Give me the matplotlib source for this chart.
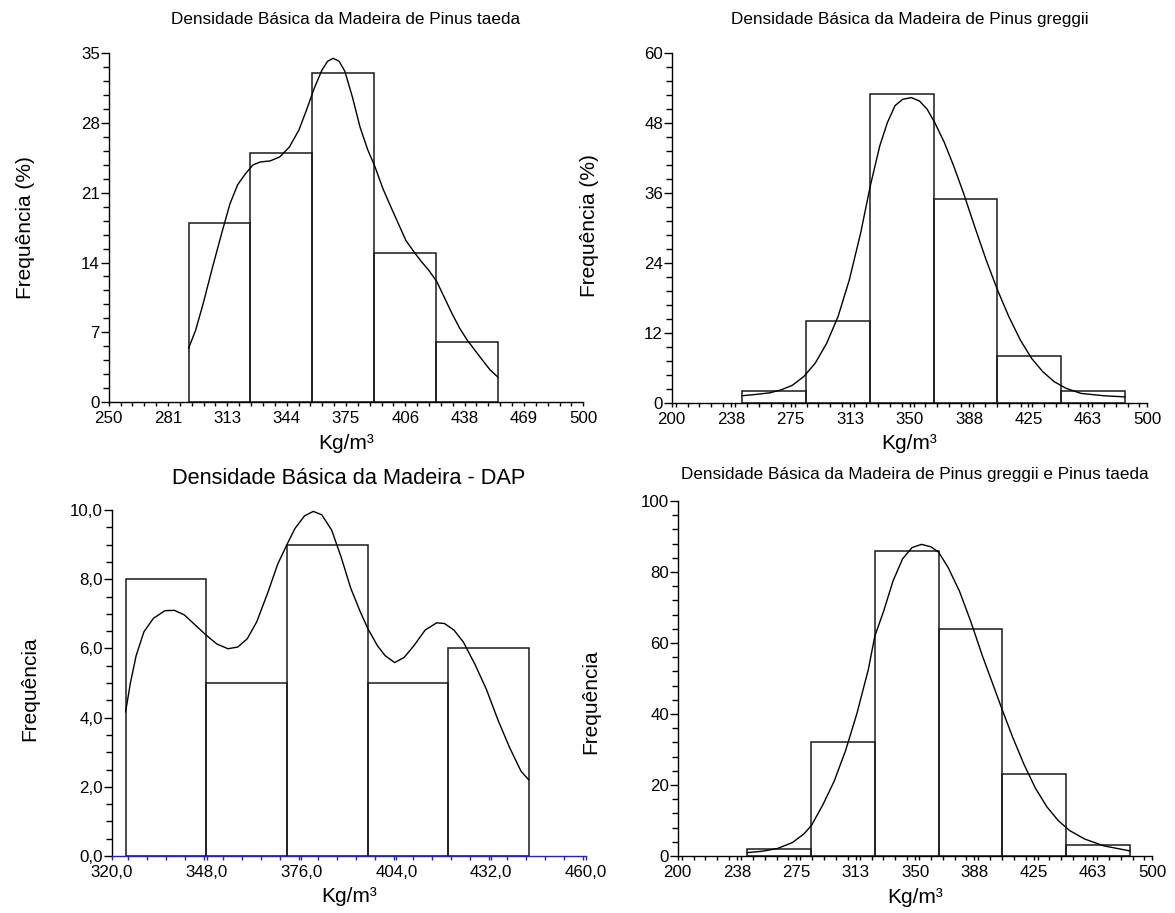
import numpy as np
import matplotlib
matplotlib.use("Agg")
import matplotlib.pyplot as plt
from matplotlib import font_manager
from matplotlib.ticker import FixedLocator, FixedFormatter, MultipleLocator

plt.rcParams['font.family'] = ['Liberation Sans', 'DejaVu Sans']

# --- Pinus taeda (frequencia %) ---
taeda_edges = [292.1, 324.6, 357.3, 389.9, 422.4, 455.0]
taeda_freq = [18, 25, 33, 15, 6]
taeda_curve_x = [292.1, 295.8, 299.8, 304.8, 309.9, 313.9, 317.9, 322.0, 326.0, 330.0,
                 335.1, 340.1, 345.2, 350.2, 354.2, 358.3, 362.3, 365.3, 368.3, 371.4,
                 374.4, 378.4, 382.4, 386.5, 389.9, 394.5, 398.6, 402.6, 406.6, 410.7,
                 414.7, 418.7, 422.8, 426.8, 430.8, 434.9, 438.9, 442.9, 446.9, 451.0, 455.0]
taeda_curve_y = [5.4, 7.2, 9.9, 13.6, 17.2, 19.9, 21.8, 22.9, 23.8, 24.1,
                 24.2, 24.6, 25.6, 27.3, 29.3, 31.5, 33.3, 34.2, 34.5, 34.2,
                 33.2, 30.6, 27.6, 25.3, 23.8, 21.4, 19.6, 17.9, 16.2, 15.1,
                 14.1, 13.2, 12.1, 10.5, 8.9, 7.4, 6.2, 5.2, 4.2, 3.2, 2.5]
taeda_xticks = ["250", "281", "313", "344", "375", "406", "438", "469", "500"]
taeda_yticks = ["0", "7", "14", "21", "28", "35"]

# --- Pinus greggii (frequencia %) ---
greggii_edges = [244.3, 284.6, 324.8, 365.1, 405.4, 445.6, 485.9]
greggii_freq = [2, 14, 53, 35, 8, 2]
greggii_curve_x = [244.3, 252.2, 261.8, 268.9, 276.1, 283.3, 290.5, 297.7, 304.9, 312.0,
                   319.2, 325.2, 331.2, 336.0, 340.8, 345.6, 351.1, 356.3, 361.1, 365.9,
                   371.9, 377.9, 383.9, 391.0, 398.2, 405.4, 412.6, 419.8, 427.0, 434.1,
                   441.3, 448.5, 458.1, 472.4, 485.8]
greggii_curve_y = [1.2, 1.4, 1.7, 2.2, 3.0, 4.5, 6.8, 10.2, 14.8, 21.1,
                   29.2, 37.2, 44.1, 48.1, 51.0, 52.1, 52.4, 51.8, 50.4, 48.1,
                   44.7, 40.6, 36.1, 30.3, 24.6, 19.4, 14.8, 10.8, 7.6, 5.3,
                   3.6, 2.5, 1.6, 1.2, 1.0]
greggii_xticks = ["200", "238", "275", "313", "350", "388", "425", "463", "500"]
greggii_yticks = ["0", "12", "24", "36", "48", "60"]

# --- DAP (frequencia absoluta) ---
dap_edges = [324.1, 347.9, 371.7, 395.5, 419.3, 443.1]
dap_freq = [8, 5, 9, 5, 6]
dap_curve_x = [324.1, 325.5, 327.2, 329.5, 332.3, 335.7, 338.5, 341.4, 344.7, 347.9,
               351.0, 354.3, 357.2, 360.0, 362.8, 366.2, 369.0, 371.6, 374.1, 376.9,
               379.5, 382.0, 384.9, 387.7, 390.5, 393.3, 395.6, 398.4, 400.7, 403.5,
               406.3, 409.2, 412.5, 415.9, 418.2, 421.0, 423.8, 427.2, 430.6, 434.0,
               437.4, 440.8, 443.0]
dap_curve_y = [4.17, 5.0, 5.79, 6.48, 6.87, 7.09, 7.1, 6.97, 6.67, 6.38,
               6.13, 5.99, 6.04, 6.28, 6.77, 7.65, 8.44, 8.98, 9.47, 9.83,
               9.96, 9.86, 9.42, 8.64, 7.75, 7.07, 6.57, 6.08, 5.79, 5.59,
               5.74, 6.08, 6.53, 6.74, 6.72, 6.53, 6.18, 5.54, 4.81, 3.93,
               3.14, 2.45, 2.21]
dap_xticks = ["320,0", "348,0", "376,0", "404,0", "432,0", "460,0"]
dap_yticks = ["0,0", "2,0", "4,0", "6,0", "8,0", "10,0"]

# --- Pinus greggii e Pinus taeda (frequencia absoluta) ---
both_edges = [243.9, 284.2, 324.6, 364.9, 405.2, 445.5, 485.8]
both_freq = [2, 32, 86, 64, 23, 3]
both_curve_x = [243.9, 253.3, 262.9, 272.5, 279.7, 284.5, 291.7, 298.9, 306.1, 313.3,
                320.5, 324.6, 330.1, 336.1, 342.1, 348.1, 354.1, 360.1, 364.9, 370.9,
                378.1, 385.3, 392.5, 399.7, 405.2, 411.7, 418.9, 426.1, 433.3, 440.5,
                447.7, 457.3, 469.3, 485.8]
both_curve_y = [0.96, 1.34, 2.1, 3.8, 6.2, 8.6, 14.4, 21.1, 29.7, 40.2,
                52.6, 62.0, 68.9, 77.5, 83.7, 86.9, 87.8, 87.1, 85.6, 81.3,
                74.6, 66.0, 56.5, 47.8, 41.1, 33.5, 25.8, 19.1, 13.9, 10.0,
                7.18, 4.78, 2.87, 1.44]
both_xticks = greggii_xticks
both_yticks = ["0", "20", "40", "60", "80", "100"]


def has_font(name):
    try:
        font_manager.findfont(name, fallback_to_default=False)
        return True
    except ValueError:
        return False


# narrow face for the species titles when available, else a smaller regular face
if has_font('Liberation Sans Narrow'):
    NARROW, NARROW_SIZE = ['Liberation Sans Narrow', 'Liberation Sans'], 14.5
else:
    NARROW, NARROW_SIZE = ['Liberation Sans', 'DejaVu Sans'], 12.3


def draw_panel(ax, edges, freq, cx, cy, xlim, xlabels, xminor, ylim, ylabels, yminor,
               title, title_font, title_size, title_pad, ylabel, ylabel_pos,
               xaxis_color='black'):
    edges = np.asarray(edges)
    ax.bar(edges[:-1], freq, width=np.diff(edges), align='edge',
           fill=False, edgecolor='#1a1a1a', linewidth=1.1, zorder=2)
    ax.plot(cx, cy, color='black', linewidth=1.0, zorder=3)

    ax.set_xlim(*xlim)
    ax.set_ylim(*ylim)
    ax.xaxis.set_major_locator(FixedLocator(np.linspace(xlim[0], xlim[1], len(xlabels))))
    ax.xaxis.set_major_formatter(FixedFormatter(xlabels))
    ax.xaxis.set_minor_locator(MultipleLocator(xminor))
    ax.yaxis.set_major_locator(FixedLocator(np.linspace(ylim[0], ylim[1], len(ylabels))))
    ax.yaxis.set_major_formatter(FixedFormatter(ylabels))
    ax.yaxis.set_minor_locator(MultipleLocator(yminor))

    for s in ('top', 'right'):
        ax.spines[s].set_visible(False)
    ax.spines['left'].set_linewidth(1.0)
    ax.spines['bottom'].set_linewidth(1.0)
    ax.spines['bottom'].set_color(xaxis_color)

    ax.tick_params(axis='x', which='both', direction='out', length=3.2, width=1.0,
                   color=xaxis_color, labelsize=12.2, pad=3.2)
    ax.tick_params(axis='y', which='major', direction='out', length=5.5, width=1.0,
                   labelsize=12.2, pad=0.8)
    ax.tick_params(axis='y', which='minor', direction='out', length=4, width=1.0)

    ax.set_title(title, family=title_font, fontsize=title_size, pad=title_pad)
    ax.set_xlabel('Kg/m³', fontsize=15, va='center')
    ax.xaxis.set_label_coords(0.5, -0.118)
    ax.set_ylabel(ylabel, fontsize=15, va='center')
    ax.yaxis.set_label_coords(*ylabel_pos)


fig = plt.figure(figsize=(11.75, 9.13), dpi=100)

ax1 = fig.add_axes([0.0925, 0.5597, 0.4039, 0.3819])
draw_panel(ax1, taeda_edges, taeda_freq, taeda_curve_x, taeda_curve_y,
           (250, 500), taeda_xticks, 6.25, (0, 35), taeda_yticks, 1.4,
           'Densidade Básica da Madeira de Pinus taeda', NARROW, NARROW_SIZE, 21,
           'Frequência (%)', (-0.176, 0.5))

ax2 = fig.add_axes([0.5717, 0.5589, 0.4048, 0.3827])
draw_panel(ax2, greggii_edges, greggii_freq, greggii_curve_x, greggii_curve_y,
           (200, 500), greggii_xticks, 7.5, (0, 60), greggii_yticks, 2.4,
           'Densidade Básica da Madeira de Pinus greggii', NARROW, NARROW_SIZE, 21,
           'Frequência (%)', (-0.172, 0.506))

ax3 = fig.add_axes([0.0951, 0.0624, 0.4037, 0.3790])
draw_panel(ax3, dap_edges, dap_freq, dap_curve_x, dap_curve_y,
           (320, 460), dap_xticks, 5.6, (0, 10), dap_yticks, 0.5,
           'Densidade Básica da Madeira - DAP', ['Liberation Sans', 'DejaVu Sans'], 15.7, 19,
           'Frequência', (-0.172, 0.483), xaxis_color='#2323b4')

ax4 = fig.add_axes([0.5768, 0.0624, 0.4039, 0.3888])
draw_panel(ax4, both_edges, both_freq, both_curve_x, both_curve_y,
           (200, 500), both_xticks, 7.5, (0, 100), both_yticks, 4,
           'Densidade Básica da Madeira de Pinus greggii e Pinus taeda', NARROW, NARROW_SIZE, 16,
           'Frequência', (-0.183, 0.434))

fig.savefig('out.png', dpi=100)
